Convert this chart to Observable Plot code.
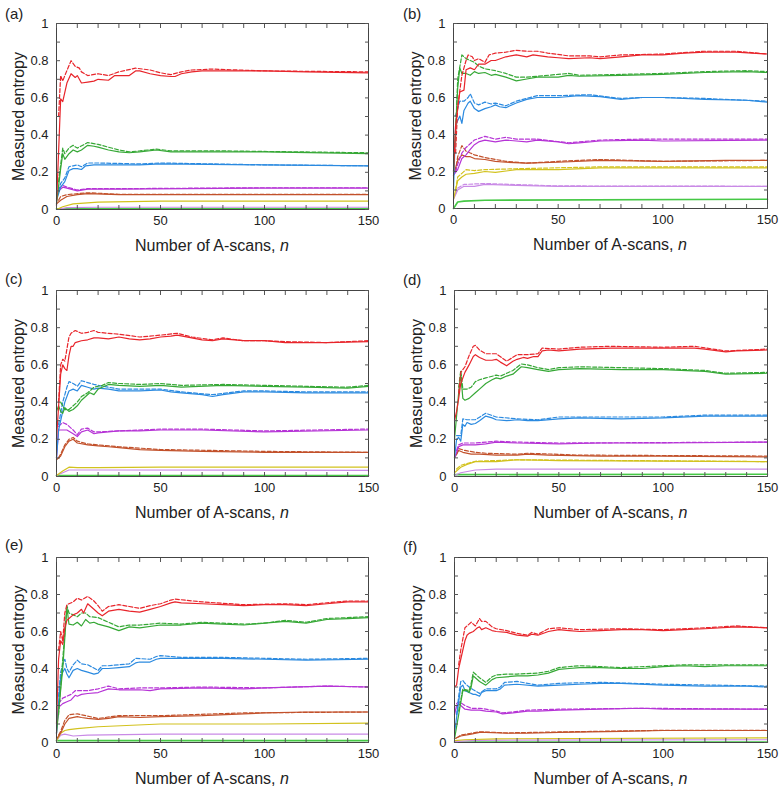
<!DOCTYPE html>
<html><head><meta charset="utf-8">
<script src="https://cdn.jsdelivr.net/npm/d3@7"></script>
<script src="https://cdn.jsdelivr.net/npm/@observablehq/plot@0.6"></script>
<style>
body{margin:0;background:#fff;font-family:"Liberation Sans",Arial,sans-serif;}
#root{position:relative;width:783px;height:793px;overflow:hidden;background:#fff;}
.panel{position:absolute;}
.panel svg{position:absolute;left:0;top:0;overflow:visible;}
.tag{position:absolute;font-size:15px;line-height:15px;color:#222;}
.xt{position:absolute;font-size:16px;line-height:16px;color:#222;text-align:center;white-space:nowrap;}
</style></head><body><div id="root"></div><script>
// ---------- tick labels ----------
const xTickLabels = [0, 50, 100, 150];
const yTickLabels = [0, 0.2, 0.4, 0.6, 0.8, 1];
const xMinorTicks = [0,10,20,30,40,50,60,70,80,90,100,110,120,130,140,150];
const yMinorTicks = [0,0.1,0.2,0.3,0.4,0.5,0.6,0.7,0.8,0.9,1];
const panelTags = ["(a)","(b)","(c)","(d)","(e)","(f)"];
const seriesNames = ["lime","lilac","yellow","brown","magenta","blue","green","red"];
const seriesColors = ["#45c845","#c98ae6","#d2c21e","#c2512b","#b634d6","#2b8ae0","#36a836","#e8252b"];

// ---------- panel (a) ----------
const aRed = [[0,0.02],[2,0.595],[3,0.58],[5,0.68],[7,0.73],[9,0.71],[10,0.72],[12,0.68],[15,0.685],[18,0.69],[20,0.70],[25,0.695],[28,0.72],[30,0.72],[35,0.72],[38,0.745],[40,0.745],[45,0.73],[50,0.72],[55,0.715],[57,0.715],[60,0.73],[65,0.74],[70,0.745],[80,0.745],[100,0.745],[120,0.74],[150,0.735]];
const aRedD = [[1,0.5],[2,0.72],[3,0.69],[4,0.72],[7,0.80],[9,0.77],[11,0.76],[12,0.74],[15,0.72],[20,0.73],[25,0.72],[30,0.74],[38,0.76],[45,0.75],[50,0.735],[55,0.725],[60,0.74],[65,0.75],[75,0.755],[100,0.745],[150,0.74]];
const aGreen = [[0,0.03],[2,0.22],[3,0.30],[4,0.27],[6,0.30],[8,0.32],[10,0.31],[12,0.32],[15,0.345],[18,0.34],[20,0.335],[25,0.32],[30,0.31],[35,0.305],[40,0.31],[48,0.32],[55,0.31],[70,0.31],[100,0.31],[150,0.30]];
const aGreenD = [[1,0.15],[3,0.33],[4,0.30],[6,0.33],[8,0.345],[10,0.33],[15,0.36],[20,0.35],[25,0.335],[30,0.32],[35,0.31],[40,0.315],[48,0.325],[55,0.315],[80,0.315],[150,0.305]];
const aBlue = [[0,0.05],[2,0.12],[4,0.15],[6,0.21],[8,0.22],[10,0.22],[12,0.215],[14,0.235],[18,0.24],[25,0.24],[40,0.24],[50,0.245],[100,0.24],[150,0.235]];
const aBlueD = [[1,0.1],[2,0.14],[4,0.17],[6,0.23],[8,0.235],[10,0.24],[12,0.23],[15,0.25],[20,0.25],[40,0.245],[50,0.25],[100,0.24],[150,0.235]];
const aMag = [[0,0.06],[1,0.10],[3,0.12],[5,0.115],[10,0.10],[15,0.11],[30,0.11],[100,0.115],[150,0.115]];
const aMagD = [[1,0.11],[3,0.13],[5,0.12],[10,0.105],[15,0.112],[30,0.112],[100,0.117],[150,0.117]];
const aBrown = [[0,0.03],[2,0.05],[5,0.07],[10,0.08],[15,0.085],[30,0.08],[150,0.08]];
const aBrownD = [[1,0.05],[2,0.07],[5,0.08],[15,0.09],[30,0.082],[150,0.081]];
const aYellow = [[0,0.0],[3,0.015],[8,0.03],[20,0.04],[50,0.045],[150,0.045]];
const aLilac = [[0,0.0],[5,0.01],[20,0.012],[150,0.012]];
const aLime = [[0,0.004],[150,0.004]];

// ---------- panel (b) ----------
const bRed = [[0,0.2],[1,0.45],[3,0.63],[5,0.64],[6,0.75],[8,0.76],[10,0.75],[12,0.78],[15,0.78],[18,0.80],[20,0.80],[25,0.82],[30,0.83],[35,0.82],[38,0.83],[45,0.82],[50,0.815],[55,0.81],[65,0.815],[70,0.81],[80,0.82],[90,0.83],[100,0.83],[110,0.84],[120,0.845],[135,0.845],[150,0.835]];
const bRedD = [[1,0.3],[2,0.55],[4,0.72],[6,0.80],[7,0.83],[9,0.82],[10,0.80],[12,0.81],[15,0.79],[17,0.83],[20,0.84],[25,0.845],[30,0.855],[35,0.85],[40,0.85],[45,0.84],[55,0.825],[65,0.825],[70,0.82],[80,0.83],[100,0.835],[120,0.85],[135,0.85],[150,0.835]];
const bGreen = [[0,0.2],[2,0.65],[3,0.76],[4,0.73],[6,0.73],[8,0.72],[10,0.74],[12,0.73],[15,0.735],[18,0.72],[20,0.725],[25,0.71],[30,0.69],[35,0.70],[40,0.71],[50,0.71],[55,0.72],[60,0.715],[80,0.72],[100,0.725],[120,0.735],[140,0.74],[150,0.735]];
const bGreenD = [[1,0.4],[2,0.70],[4,0.83],[6,0.81],[8,0.80],[10,0.79],[12,0.77],[15,0.755],[20,0.745],[25,0.73],[30,0.71],[35,0.71],[40,0.715],[50,0.725],[55,0.73],[60,0.72],[80,0.725],[100,0.73],[120,0.74],[140,0.745],[150,0.74]];
const bBlue = [[0,0.1],[1,0.45],[3,0.50],[4,0.46],[5,0.53],[7,0.57],[8,0.58],[10,0.54],[12,0.525],[15,0.54],[18,0.55],[20,0.56],[22,0.55],[25,0.545],[30,0.57],[35,0.59],[40,0.60],[50,0.60],[60,0.61],[70,0.605],[80,0.59],[90,0.60],[100,0.60],[120,0.59],[140,0.585],[150,0.575]];
const bBlueD = [[1,0.5],[3,0.58],[5,0.58],[7,0.60],[8,0.62],[10,0.57],[12,0.56],[15,0.575],[18,0.565],[20,0.57],[25,0.555],[30,0.58],[35,0.595],[40,0.61],[50,0.61],[65,0.615],[80,0.595],[90,0.60],[100,0.60],[120,0.595],[140,0.585],[150,0.58]];
const bMag = [[0,0.18],[2,0.21],[4,0.27],[6,0.29],[8,0.32],[10,0.345],[12,0.36],[15,0.37],[20,0.36],[25,0.37],[30,0.365],[35,0.36],[40,0.37],[50,0.36],[55,0.35],[60,0.355],[70,0.365],[90,0.37],[100,0.365],[150,0.37]];
const bMagD = [[1,0.2],[2,0.24],[4,0.30],[6,0.33],[8,0.35],[10,0.37],[15,0.39],[20,0.375],[25,0.385],[30,0.375],[40,0.375],[55,0.355],[70,0.37],[90,0.375],[150,0.375]];
const bBrown = [[0,0.18],[2,0.26],[4,0.29],[6,0.28],[8,0.28],[10,0.27],[15,0.265],[20,0.255],[25,0.25],[35,0.245],[50,0.25],[70,0.26],[100,0.255],[130,0.26],[150,0.26]];
const bBrownD = [[1,0.2],[2,0.28],[4,0.34],[6,0.31],[8,0.30],[10,0.29],[15,0.275],[20,0.265],[25,0.255],[35,0.245],[50,0.255],[70,0.265],[100,0.255],[150,0.26]];
const bYellow = [[0,0.05],[2,0.15],[4,0.17],[6,0.185],[10,0.19],[15,0.20],[20,0.195],[30,0.21],[50,0.21],[70,0.22],[100,0.22],[150,0.22]];
const bYellowD = [[1,0.1],[2,0.17],[4,0.19],[6,0.21],[10,0.205],[15,0.21],[30,0.215],[70,0.225],[150,0.225]];
const bLilac = [[0,0.05],[2,0.10],[5,0.12],[10,0.12],[15,0.13],[30,0.125],[50,0.12],[150,0.12]];
const bLilacD = [[1,0.08],[2,0.11],[5,0.13],[15,0.135],[50,0.122],[150,0.12]];
const bLime = [[0,0.0],[2,0.035],[5,0.04],[15,0.045],[150,0.05]];

// ---------- panel (c) ----------
const cRed = [[0,0.2],[2,0.55],[3,0.60],[4,0.58],[5,0.57],[6,0.65],[7,0.70],[8,0.70],[9,0.72],[12,0.73],[15,0.735],[18,0.745],[20,0.745],[25,0.74],[30,0.75],[35,0.74],[40,0.735],[45,0.74],[50,0.75],[55,0.755],[58,0.76],[65,0.745],[70,0.735],[75,0.73],[80,0.74],[90,0.73],[100,0.73],[110,0.72],[130,0.72],[150,0.725]];
const cRedD = [[1,0.4],[2,0.60],[3,0.63],[4,0.62],[6,0.75],[7,0.77],[9,0.785],[12,0.77],[15,0.775],[18,0.785],[20,0.775],[25,0.77],[30,0.765],[40,0.75],[50,0.76],[58,0.77],[65,0.75],[75,0.735],[80,0.745],[90,0.73],[100,0.73],[110,0.725],[130,0.72],[150,0.73]];
const cGreen = [[0,0.35],[1,0.38],[2,0.35],[3,0.34],[4,0.37],[6,0.35],[8,0.36],[10,0.38],[12,0.41],[14,0.43],[16,0.45],[18,0.44],[20,0.47],[22,0.48],[25,0.495],[30,0.49],[40,0.485],[50,0.49],[60,0.48],[80,0.49],[100,0.485],[120,0.48],[140,0.475],[150,0.485]];
const cGreenD = [[2,0.40],[4,0.36],[6,0.36],[8,0.38],[10,0.40],[12,0.43],[15,0.45],[18,0.48],[22,0.49],[25,0.505],[30,0.50],[40,0.495],[50,0.50],[60,0.49],[80,0.495],[100,0.49],[120,0.485],[140,0.48],[150,0.49]];
const cBlue = [[0,0.1],[1,0.25],[3,0.35],[4,0.40],[5,0.43],[6,0.46],[8,0.47],[10,0.46],[12,0.49],[15,0.48],[18,0.47],[20,0.475],[25,0.47],[30,0.46],[40,0.46],[50,0.465],[55,0.455],[60,0.45],[70,0.44],[75,0.43],[80,0.44],[90,0.455],[100,0.455],[120,0.45],[150,0.45]];
const cBlueD = [[1,0.28],[3,0.40],[5,0.48],[6,0.51],[8,0.50],[10,0.485],[12,0.515],[15,0.505],[18,0.495],[20,0.49],[25,0.48],[30,0.47],[40,0.47],[50,0.47],[60,0.455],[75,0.44],[90,0.46],[100,0.46],[120,0.455],[150,0.455]];
const cMag = [[0,0.1],[1,0.25],[3,0.25],[5,0.25],[8,0.23],[10,0.215],[12,0.24],[15,0.25],[18,0.23],[20,0.235],[30,0.245],[40,0.245],[50,0.25],[70,0.25],[100,0.24],[150,0.25]];
const cMagD = [[1,0.27],[3,0.29],[5,0.28],[8,0.25],[10,0.225],[12,0.255],[15,0.26],[18,0.24],[20,0.24],[30,0.245],[50,0.255],[70,0.255],[100,0.245],[150,0.255]];
const cBrown = [[0,0.09],[2,0.11],[4,0.16],[6,0.19],[8,0.20],[10,0.18],[15,0.17],[20,0.165],[25,0.16],[30,0.155],[40,0.145],[50,0.14],[70,0.135],[100,0.13],[150,0.13]];
const cBrownD = [[1,0.1],[2,0.12],[4,0.17],[6,0.20],[8,0.21],[10,0.19],[15,0.175],[20,0.17],[30,0.16],[50,0.145],[100,0.135],[150,0.13]];
const cYellow = [[0,0.005],[3,0.03],[6,0.05],[10,0.048],[20,0.048],[50,0.05],[150,0.05]];
const cLilac = [[0,0.005],[3,0.02],[6,0.035],[20,0.035],[150,0.033]];
const cLime = [[0,0.005],[150,0.005]];

// ---------- panel (d) ----------
const dRed = [[0,0.3],[1,0.35],[2,0.42],[3,0.50],[5,0.56],[7,0.60],[9,0.645],[10,0.655],[12,0.64],[15,0.625],[18,0.625],[20,0.63],[22,0.615],[25,0.595],[28,0.62],[30,0.63],[33,0.64],[35,0.635],[38,0.645],[40,0.645],[42,0.675],[45,0.68],[50,0.675],[60,0.685],[75,0.69],[100,0.69],[115,0.69],[120,0.685],[130,0.67],[135,0.675],[150,0.68]];
const dRedD = [[2,0.45],[3,0.56],[5,0.59],[7,0.65],[9,0.70],[10,0.705],[12,0.68],[15,0.66],[20,0.66],[25,0.62],[30,0.655],[35,0.655],[40,0.66],[42,0.69],[50,0.685],[60,0.695],[75,0.70],[100,0.695],[115,0.70],[130,0.675],[150,0.685]];
const dGreen = [[0,0.2],[2,0.45],[3,0.55],[4,0.42],[5,0.41],[7,0.42],[10,0.45],[12,0.47],[15,0.50],[18,0.52],[20,0.53],[22,0.525],[25,0.54],[28,0.55],[32,0.59],[35,0.585],[40,0.575],[45,0.565],[50,0.575],[60,0.58],[80,0.575],[100,0.575],[120,0.565],[130,0.55],[150,0.555]];
const dGreenD = [[2,0.48],[3,0.57],[4,0.47],[6,0.47],[8,0.48],[10,0.51],[12,0.52],[15,0.53],[20,0.545],[22,0.54],[25,0.555],[28,0.57],[32,0.605],[35,0.60],[40,0.585],[45,0.575],[50,0.585],[60,0.59],[80,0.585],[100,0.58],[120,0.57],[130,0.555],[150,0.56]];
const dBlue = [[0,0.1],[1,0.20],[2,0.21],[3,0.19],[4,0.28],[5,0.27],[6,0.29],[8,0.28],[10,0.285],[12,0.30],[15,0.325],[18,0.315],[20,0.305],[25,0.30],[30,0.305],[35,0.30],[40,0.30],[50,0.31],[60,0.315],[80,0.31],[100,0.315],[120,0.325],[150,0.325]];
const dBlueD = [[1,0.22],[3,0.22],[4,0.31],[6,0.305],[10,0.305],[15,0.34],[20,0.32],[30,0.31],[40,0.305],[50,0.32],[60,0.32],[100,0.32],[120,0.33],[150,0.33]];
const dMag = [[0,0.1],[2,0.16],[4,0.17],[10,0.17],[15,0.175],[20,0.185],[30,0.18],[50,0.175],[70,0.18],[100,0.18],[150,0.185]];
const dMagD = [[1,0.14],[2,0.17],[4,0.18],[10,0.18],[20,0.19],[30,0.185],[50,0.18],[150,0.185]];
const dBrown = [[0,0.1],[2,0.14],[4,0.13],[8,0.12],[12,0.12],[20,0.115],[30,0.115],[35,0.12],[45,0.115],[70,0.11],[100,0.11],[150,0.105]];
const dBrownD = [[1,0.12],[2,0.15],[5,0.14],[10,0.13],[15,0.125],[30,0.12],[35,0.125],[60,0.115],[150,0.11]];
const dYellow = [[0,0.02],[3,0.05],[6,0.065],[10,0.08],[20,0.08],[30,0.09],[50,0.085],[150,0.08]];
const dYellowD = [[1,0.04],[3,0.06],[6,0.07],[10,0.082],[30,0.09],[150,0.08]];
const dLilac = [[0,0.005],[3,0.02],[10,0.035],[20,0.04],[150,0.04]];
const dLime = [[0,0.01],[150,0.012]];

// ---------- panel (e) ----------
const eRed = [[0,0.1],[1,0.45],[2,0.55],[3,0.53],[4,0.62],[5,0.66],[6,0.67],[8,0.69],[10,0.70],[12,0.72],[13,0.70],[15,0.75],[18,0.72],[20,0.70],[22,0.685],[25,0.71],[30,0.72],[35,0.71],[40,0.705],[45,0.72],[50,0.735],[55,0.755],[57,0.76],[60,0.755],[70,0.75],[80,0.745],[90,0.74],[100,0.745],[110,0.745],[120,0.74],[130,0.75],[140,0.76],[150,0.76]];
const eRedD = [[1,0.5],[2,0.6],[3,0.55],[4,0.70],[5,0.745],[6,0.75],[8,0.76],[10,0.78],[12,0.77],[15,0.79],[18,0.765],[20,0.74],[22,0.71],[25,0.735],[30,0.745],[35,0.735],[40,0.725],[45,0.74],[50,0.75],[55,0.77],[57,0.775],[70,0.76],[90,0.745],[110,0.75],[120,0.745],[140,0.765],[150,0.765]];
const eGreen = [[0,0.05],[3,0.40],[5,0.73],[6,0.64],[8,0.635],[10,0.65],[12,0.63],[14,0.665],[16,0.645],[18,0.65],[20,0.64],[25,0.625],[30,0.605],[35,0.625],[40,0.62],[50,0.635],[60,0.635],[70,0.645],[80,0.64],[90,0.635],[100,0.645],[110,0.655],[120,0.645],[130,0.665],[140,0.67],[150,0.675]];
const eGreenD = [[1,0.15],[3,0.45],[5,0.74],[6,0.70],[8,0.69],[10,0.68],[12,0.70],[14,0.70],[16,0.68],[20,0.675],[25,0.65],[30,0.625],[35,0.635],[40,0.635],[50,0.645],[60,0.64],[70,0.65],[80,0.645],[90,0.64],[100,0.645],[110,0.66],[120,0.65],[130,0.67],[150,0.68]];
const eBlue = [[0,0.05],[1,0.22],[2,0.35],[3,0.38],[4,0.40],[5,0.37],[6,0.35],[8,0.39],[10,0.40],[12,0.39],[15,0.38],[18,0.37],[20,0.375],[22,0.40],[25,0.40],[30,0.405],[35,0.41],[38,0.43],[40,0.435],[45,0.435],[48,0.45],[50,0.455],[60,0.455],[80,0.455],[100,0.45],[120,0.445],[150,0.45]];
const eBlueD = [[1,0.25],[2,0.38],[3,0.42],[4,0.45],[5,0.40],[6,0.38],[8,0.42],[10,0.445],[12,0.425],[15,0.42],[20,0.39],[22,0.415],[25,0.415],[30,0.42],[35,0.425],[38,0.455],[45,0.45],[48,0.465],[50,0.47],[60,0.46],[80,0.46],[100,0.455],[120,0.45],[150,0.455]];
const eMag = [[0,0.05],[1,0.19],[3,0.21],[5,0.22],[7,0.23],[9,0.255],[10,0.25],[12,0.26],[15,0.265],[20,0.27],[25,0.29],[30,0.285],[40,0.285],[45,0.28],[50,0.29],[70,0.295],[90,0.29],[100,0.295],[130,0.305],[150,0.30]];
const eMagD = [[1,0.21],[3,0.24],[5,0.25],[7,0.26],[9,0.28],[12,0.28],[15,0.28],[20,0.29],[25,0.305],[30,0.29],[40,0.295],[50,0.295],[70,0.30],[100,0.295],[130,0.305],[150,0.30]];
const eBrown = [[0,0.02],[2,0.05],[4,0.10],[6,0.13],[10,0.14],[12,0.135],[15,0.13],[20,0.125],[25,0.13],[30,0.14],[40,0.135],[50,0.14],[70,0.145],[90,0.155],[100,0.16],[120,0.165],[150,0.165]];
const eBrownD = [[1,0.04],[2,0.06],[4,0.12],[6,0.15],[10,0.155],[12,0.15],[20,0.13],[30,0.145],[50,0.145],[90,0.16],[150,0.165]];
const eYellow = [[0,0.01],[2,0.05],[4,0.065],[6,0.07],[10,0.075],[20,0.085],[50,0.10],[100,0.10],[150,0.105]];
const eLilac = [[0,0.01],[2,0.04],[4,0.045],[8,0.035],[15,0.04],[50,0.045],[150,0.045]];
const eLime = [[0,0.01],[150,0.01]];

// ---------- panel (f) ----------
const fRed = [[0,0.3],[1,0.31],[2,0.40],[3,0.45],[4,0.50],[5,0.55],[6,0.58],[7,0.59],[9,0.60],[10,0.61],[11,0.62],[12,0.625],[13,0.61],[15,0.62],[18,0.605],[20,0.60],[25,0.595],[30,0.58],[35,0.575],[37,0.585],[40,0.58],[45,0.60],[50,0.61],[55,0.605],[60,0.60],[70,0.605],[80,0.61],[90,0.61],[100,0.605],[110,0.61],[120,0.615],[135,0.625],[150,0.62]];
const fRedD = [[2,0.42],[3,0.50],[4,0.56],[5,0.62],[6,0.63],[7,0.64],[8,0.65],[10,0.63],[12,0.67],[13,0.655],[15,0.655],[18,0.625],[20,0.615],[25,0.605],[30,0.59],[35,0.58],[37,0.595],[40,0.585],[45,0.615],[50,0.62],[60,0.61],[80,0.615],[100,0.61],[120,0.62],[135,0.63],[150,0.62]];
const fGreen = [[0,0.02],[2,0.15],[4,0.28],[6,0.28],[7,0.27],[8,0.30],[9,0.36],[10,0.35],[12,0.33],[15,0.31],[18,0.34],[20,0.35],[25,0.355],[30,0.36],[35,0.36],[40,0.365],[45,0.375],[50,0.395],[55,0.40],[60,0.405],[70,0.405],[80,0.40],[90,0.40],[100,0.41],[110,0.415],[120,0.41],[130,0.415],[150,0.415]];
const fGreenD = [[2,0.17],[4,0.29],[7,0.28],[8,0.32],[9,0.38],[10,0.37],[12,0.35],[15,0.325],[18,0.355],[20,0.365],[25,0.37],[30,0.37],[40,0.375],[45,0.385],[50,0.405],[60,0.415],[80,0.405],[100,0.415],[110,0.42],[150,0.42]];
const fBlue = [[0,0.05],[2,0.22],[3,0.30],[4,0.31],[5,0.28],[7,0.27],[9,0.26],[10,0.26],[12,0.25],[13,0.27],[15,0.28],[18,0.28],[20,0.28],[22,0.29],[24,0.31],[30,0.315],[40,0.305],[50,0.31],[60,0.315],[70,0.32],[80,0.32],[100,0.31],[120,0.305],[140,0.305],[150,0.30]];
const fBlueD = [[1,0.15],[2,0.25],[3,0.33],[4,0.335],[5,0.32],[7,0.30],[9,0.285],[12,0.265],[15,0.29],[20,0.29],[22,0.30],[24,0.325],[30,0.33],[40,0.31],[50,0.32],[70,0.325],[100,0.315],[150,0.305]];
const fMag = [[0,0.15],[1,0.20],[2,0.21],[3,0.20],[5,0.18],[8,0.175],[12,0.175],[15,0.17],[20,0.165],[23,0.155],[28,0.16],[35,0.17],[40,0.17],[50,0.175],[70,0.18],[90,0.185],[100,0.18],[150,0.18]];
const fMagD = [[1,0.21],[2,0.22],[3,0.215],[5,0.20],[8,0.185],[12,0.185],[15,0.18],[20,0.17],[23,0.16],[28,0.165],[35,0.175],[50,0.18],[90,0.185],[150,0.18]];
const fBrown = [[0,0.02],[3,0.035],[8,0.045],[12,0.055],[15,0.055],[25,0.05],[35,0.05],[50,0.055],[80,0.06],[100,0.065],[150,0.065]];
const fBrownD = [[1,0.025],[3,0.04],[8,0.05],[12,0.058],[25,0.052],[50,0.057],[100,0.066],[150,0.066]];
const fYellow = [[0,0.01],[5,0.015],[20,0.02],[150,0.025]];
const fLilac = [[0,0.005],[10,0.012],[150,0.015]];
const fLime = [[0,0.003],[150,0.003]];

// series per panel, order = seriesNames: [solid, dashed]
const panelSeries = [
  [[aLime,null],[aLilac,null],[aYellow,null],[aBrown,aBrownD],[aMag,aMagD],[aBlue,aBlueD],[aGreen,aGreenD],[aRed,aRedD]],
  [[bLime,null],[bLilac,bLilacD],[bYellow,bYellowD],[bBrown,bBrownD],[bMag,bMagD],[bBlue,bBlueD],[bGreen,bGreenD],[bRed,bRedD]],
  [[cLime,null],[cLilac,null],[cYellow,null],[cBrown,cBrownD],[cMag,cMagD],[cBlue,cBlueD],[cGreen,cGreenD],[cRed,cRedD]],
  [[dLime,null],[dLilac,null],[dYellow,dYellowD],[dBrown,dBrownD],[dMag,dMagD],[dBlue,dBlueD],[dGreen,dGreenD],[dRed,dRedD]],
  [[eLime,null],[eLilac,null],[eYellow,null],[eBrown,eBrownD],[eMag,eMagD],[eBlue,eBlueD],[eGreen,eGreenD],[eRed,eRedD]],
  [[fLime,null],[fLilac,null],[fYellow,null],[fBrown,fBrownD],[fMag,fMagD],[fBlue,fBlueD],[fGreen,fGreenD],[fRed,fRedD]]
];

// ---------- layout ----------
const layout = [
  {left:0,   top:0,   w:390, h:265, ml:56, mr:22, mt:23, mb:56, tagX:5,  tagY:6},
  {left:390, top:0,   w:393, h:265, ml:63, mr:16, mt:23, mb:57, tagX:13, tagY:6},
  {left:0,   top:265, w:390, h:265, ml:56, mr:22, mt:25, mb:54, tagX:5,  tagY:6},
  {left:390, top:265, w:393, h:265, ml:64, mr:16, mt:25, mb:54, tagX:13, tagY:7},
  {left:0,   top:528, w:390, h:265, ml:56, mr:22, mt:29, mb:51, tagX:5,  tagY:9},
  {left:390, top:528, w:393, h:265, ml:64, mr:16, mt:29, mb:51, tagX:13, tagY:11}
];

const root = document.getElementById("root");
const tickColor = "#555";

layout.forEach((L, i) => {
  const marks = [];
  panelSeries[i].forEach(([solid, dashed], k) => {
    const color = seriesColors[k];
    const w = seriesNames[k] === "lime" ? 1.6 : 1.2;
    marks.push(Plot.line(solid, {x: d => d[0], y: d => d[1], stroke: color, strokeWidth: w}));
    if (dashed) marks.push(Plot.line(dashed, {x: d => d[0], y: d => d[1], stroke: color, strokeWidth: 1.2, strokeDasharray: "4,2"}));
  });
  marks.push(
    Plot.frame({stroke: "#444", strokeWidth: 1}),
    Plot.axisX({ticks: xMinorTicks, anchor: "bottom", tickSize: -4, stroke: tickColor, fill: "none", label: null}),
    Plot.axisX({ticks: xMinorTicks, anchor: "top", tickSize: -4, stroke: tickColor, fill: "none", label: null}),
    Plot.axisY({ticks: yMinorTicks, anchor: "left", tickSize: -4, stroke: tickColor, fill: "none", label: null}),
    Plot.axisY({ticks: yMinorTicks, anchor: "right", tickSize: -4, stroke: tickColor, fill: "none", label: null}),
    Plot.axisX({ticks: xTickLabels, anchor: "bottom", tickSize: 0, tickPadding: 6, tickFormat: d => String(d), fill: "#222", label: null}),
    Plot.axisY({ticks: yTickLabels, anchor: "left", tickSize: 0, tickPadding: 8, tickFormat: d => String(d), fill: "#222", label: null}),
    Plot.text(["Measured entropy"], {text: d => d, frameAnchor: "left", textAnchor: "middle", lineAnchor: "middle", rotate: -90, dx: -38, fontSize: 16, fill: "#222"})
  );
  const svg = Plot.plot({
    width: L.w, height: L.h,
    marginLeft: L.ml, marginRight: L.mr, marginTop: L.mt, marginBottom: L.mb,
    x: {domain: [0, 150]},
    y: {domain: [0, 1]},
    style: {fontFamily: '"Liberation Sans", Arial, sans-serif', fontSize: "13px", color: "#222", background: "transparent"},
    marks
  });
  const div = document.createElement("div");
  div.className = "panel";
  div.style.left = L.left + "px"; div.style.top = L.top + "px";
  div.style.width = L.w + "px"; div.style.height = L.h + "px";
  div.appendChild(svg);
  const tag = document.createElement("div");
  tag.className = "tag"; tag.textContent = panelTags[i];
  tag.style.left = L.tagX + "px"; tag.style.top = L.tagY + "px";
  div.appendChild(tag);
  const xt = document.createElement("div");
  xt.className = "xt";
  xt.innerHTML = "Number of A-scans, <i>n</i>";
  xt.style.left = L.ml + "px"; xt.style.width = (L.w - L.ml - L.mr) + "px";
  xt.style.top = (L.h - L.mb + 29) + "px";
  div.appendChild(xt);
  root.appendChild(div);
});
</script></body></html>
